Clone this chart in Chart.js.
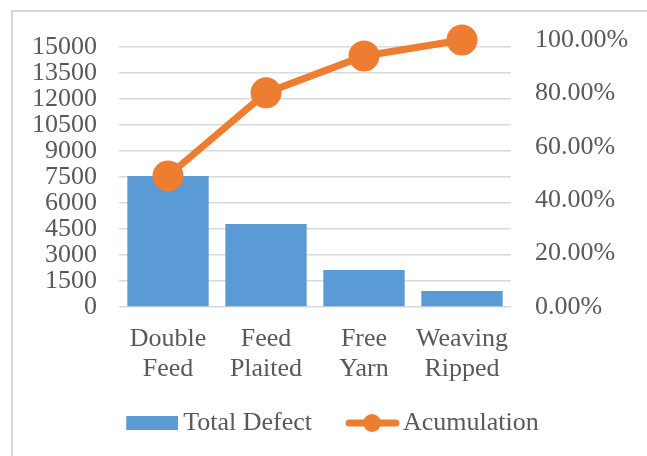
<!DOCTYPE html>
<html>
<head>
  <meta charset="UTF-8">
  <script src="https://cdn.jsdelivr.net/npm/chart.js@4.4.1/dist/chart.umd.min.js"></script>
  <style>
    body { margin: 0; background: #fff; }
    #frame { position: absolute; left: 11px; top: 10px; width: 640px; height: 460px; border: 2px solid #d9d9d9; }
    #wrap { position: absolute; left: 0; top: 0; width: 647px; height: 456px; }
  </style>
</head>
<body>
  <div id="frame"></div>
  <div id="wrap"><canvas id="myChart" width="647" height="456"></canvas></div>
  <script>
    // data
    const categories = [['Double', 'Feed'], ['Feed', 'Plaited'], ['Free', 'Yarn'], ['Weaving', 'Ripped']];
    const totalDefect = [7560, 4790, 2135, 920];
    const acumulation = [49.1, 80.2, 94.0, 100];
    const leftTicks = [0, 1500, 3000, 4500, 6000, 7500, 9000, 10500, 12000, 13500, 15000];
    const rightTicks = [0, 20, 40, 60, 80, 100];

    const blue = '#5b9bd5';
    const orange = '#ed7d31';
    const textColor = '#595959';
    const font = { family: "'Liberation Serif', 'Times New Roman', serif", size: 26 };

    // left axis top = total of all defects (pareto)
    const leftMax = totalDefect.reduce((a, b) => a + b, 0);

    // legend markers
    function barMarker() {
      let c = document.createElement('canvas');
      c.width = 86; c.height = 14;
      let g = c.getContext('2d');
      g.fillStyle = blue;
      g.fillRect(34, 0, 52, 14);
      return c;
    }
    function lineMarker() {
      let c = document.createElement('canvas');
      c.width = 90; c.height = 22;
      let g = c.getContext('2d');
      g.strokeStyle = orange;
      g.lineWidth = 7;
      g.lineCap = 'round';
      g.beginPath();
      g.moveTo(39, 11); g.lineTo(86, 11);
      g.stroke();
      g.fillStyle = orange;
      g.beginPath();
      g.arc(62, 11, 9, 0, Math.PI * 2);
      g.fill();
      return c;
    }

    let ctx = document.getElementById('myChart').getContext('2d');
    let chart = new Chart(ctx, {
      type: 'bar',
      data: {
        labels: categories,
        datasets: [{
          type: 'bar',
          label: 'Total Defect',
          data: totalDefect,
          backgroundColor: blue,
          yAxisID: 'y',
          barPercentage: 0.83,
          categoryPercentage: 1,
          order: 2
        }, {
          type: 'line',
          label: 'Acumulation',
          data: acumulation,
          borderColor: orange,
          backgroundColor: orange,
          borderWidth: 7,
          pointRadius: 12,
          pointBackgroundColor: orange,
          pointBorderColor: orange,
          tension: 0,
          clip: false,
          yAxisID: 'y1',
          order: 1
        }]
      },
      options: {
        responsive: false,
        animation: false,
        layout: { padding: { top: 40, left: 0, right: 8, bottom: 10 } },
        plugins: {
          tooltip: { enabled: false },
          legend: {
            position: 'bottom',
            labels: {
              usePointStyle: true,
              pointStyleWidth: 70,
              padding: 8,
              color: textColor,
              font: font,
              generateLabels: function(ch) {
                return [
                  { text: 'Total Defect', pointStyle: barMarker(), fontColor: textColor, hidden: false, datasetIndex: 0, lineWidth: 0 },
                  { text: 'Acumulation', pointStyle: lineMarker(), fontColor: textColor, hidden: false, datasetIndex: 1, lineWidth: 0 }
                ];
              }
            }
          }
        },
        scales: {
          x: {
            grid: { display: false, drawTicks: false },
            border: { display: false },
            ticks: { padding: 17, color: textColor, font: { family: font.family, size: 26, lineHeight: 1.154 }, maxRotation: 0 },
            afterFit: function(s) { s.height = 95; }
          },
          y: {
            position: 'left',
            min: 0,
            max: leftMax,
            grid: { color: '#d9d9d9', lineWidth: 1.5, drawTicks: false },
            border: { display: false },
            ticks: { padding: 22, color: textColor, font: font, autoSkip: false, callback: v => String(v) },
            afterBuildTicks: function(s) { s.ticks = leftTicks.map(v => ({ value: v })); },
            afterFit: function(s) { s.width = 119; }
          },
          y1: {
            position: 'right',
            min: 0,
            max: 100,
            grid: { display: false, drawTicks: false },
            border: { display: false },
            ticks: { padding: 24, color: textColor, font: font, autoSkip: false, callback: v => v.toFixed(2) + '%' },
            afterBuildTicks: function(s) { s.ticks = rightTicks.map(v => ({ value: v })); },
            afterFit: function(s) { s.width = 128; }
          }
        }
      }
    });
  </script>
</body>
</html>
